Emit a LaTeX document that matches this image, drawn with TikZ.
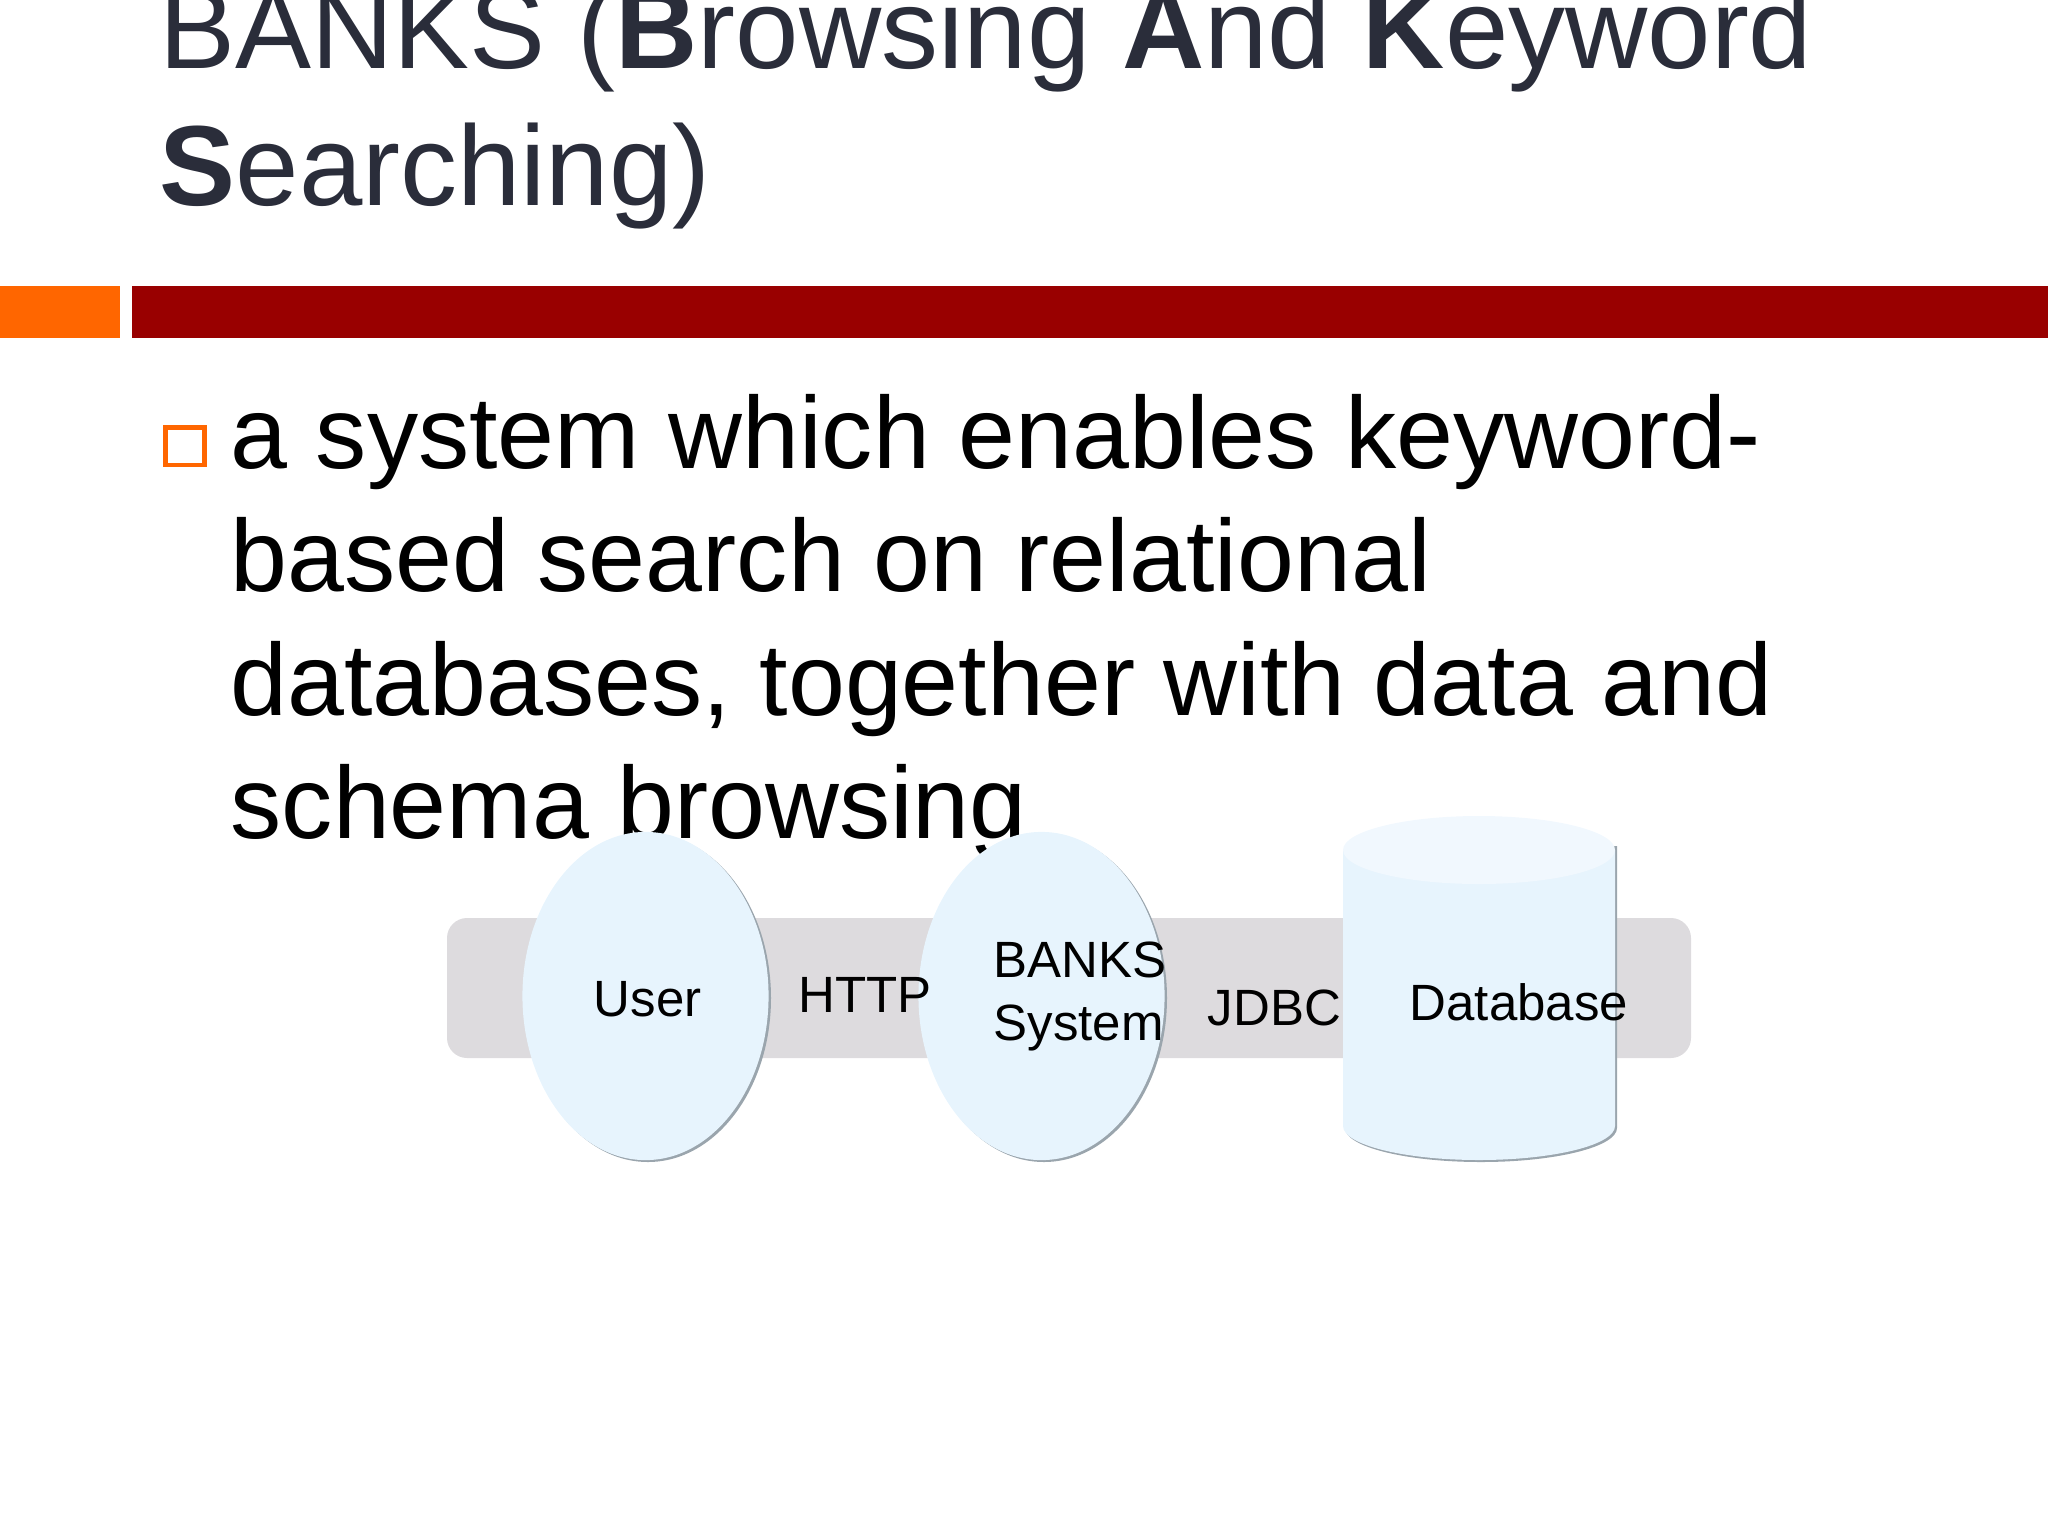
\documentclass[tikz,border=0pt]{standalone}
\usepackage{fontspec}
\setmainfont{Liberation Sans}
\usetikzlibrary{shapes.geometric}
\definecolor{titlegray}{HTML}{2A2D3A}
\definecolor{barorange}{HTML}{FF6600}
\definecolor{barred}{HTML}{990000}
\definecolor{bandgray}{HTML}{DDDBDE}
\definecolor{shapeblue}{HTML}{E7F4FD}
\definecolor{capblue}{HTML}{F1F8FE}
\definecolor{shadowgray}{HTML}{9AA5AD}
\tikzset{
	titleline/.style={anchor=base west, inner sep=0pt, color=titlegray, font=\fontsize{32.4}{38}\selectfont},
	bodyline/.style={anchor=base west, inner sep=0pt, color=black, font=\fontsize{29.1}{35}\selectfont},
	tierlabel/.style={anchor=base west, inner sep=0pt, color=black, font=\fontsize{14.5}{17}\selectfont},
	tierbubble/.style={ellipse, inner sep=0pt, minimum width=2.46cm, minimum height=3.28cm, fill=shapeblue}
}
\begin{document}
\begin{tikzpicture}[x=0.01cm, y=-0.01cm]
	%%%%% START %%%%%
	\useasboundingbox (0, 0) rectangle (2048, 1536);

	\node[titleline] (titleone) at (159, 68) {BANKS (\textbf{B}rowsing \textbf{A}nd \textbf{K}eyword};
	\node[titleline] (titletwo) at (159, 205) {\textbf{S}earching)};

	\fill[barorange] (0, 286) rectangle (120, 338);
	\fill[barred] (132, 286) rectangle (2048, 338);

	\draw[barorange, line width=0.45mm] (165.5, 427.5) rectangle (204.5, 465);

	\node[bodyline] (bodyone) at (230, 468) {a system which enables keyword-};
	\node[bodyline] (bodytwo) at (230, 591) {based search on relational};
	\node[bodyline] (bodythree) at (230, 715) {databases, together with data and};
	\node[bodyline] (bodyfour) at (230, 838) {schema browsing};

	\fill[bandgray, rounded corners=0.2cm] (447, 918) rectangle (1691, 1058);

	% shadows first, then the shapes
	\fill[shadowgray] (648, 998) ellipse [x radius=123, y radius=164];
	\fill[shadowgray] (1044, 998) ellipse [x radius=123, y radius=164];
	\node[tierbubble] (user) at (645.5, 996) {};
	\node[tierbubble] (banks) at (1041.5, 996) {};

	\fill[shadowgray] (1345, 846) -- (1345, 1128) arc [start angle=180, end angle=0, x radius=136, y radius=34] -- (1617, 846) -- cycle;
	\fill[shapeblue] (1343, 850) -- (1343, 1126) arc [start angle=180, end angle=0, x radius=136, y radius=34] -- (1615, 850) -- cycle;
	\fill[capblue] (1479, 850) ellipse [x radius=136, y radius=34];

	\node[tierlabel] (userlabel) at (593, 1016) {User};
	\node[tierlabel] (httplabel) at (798, 1012) {HTTP};
	\node[tierlabel] (banksone) at (993, 977) {BANKS};
	\node[tierlabel] (bankstwo) at (993, 1040) {System};
	\node[tierlabel] (jdbclabel) at (1207, 1025) {JDBC};
	\node[tierlabel] (dblabel) at (1409, 1020) {Database};
	%%%%% END %%%%%
\end{tikzpicture}
\end{document}
